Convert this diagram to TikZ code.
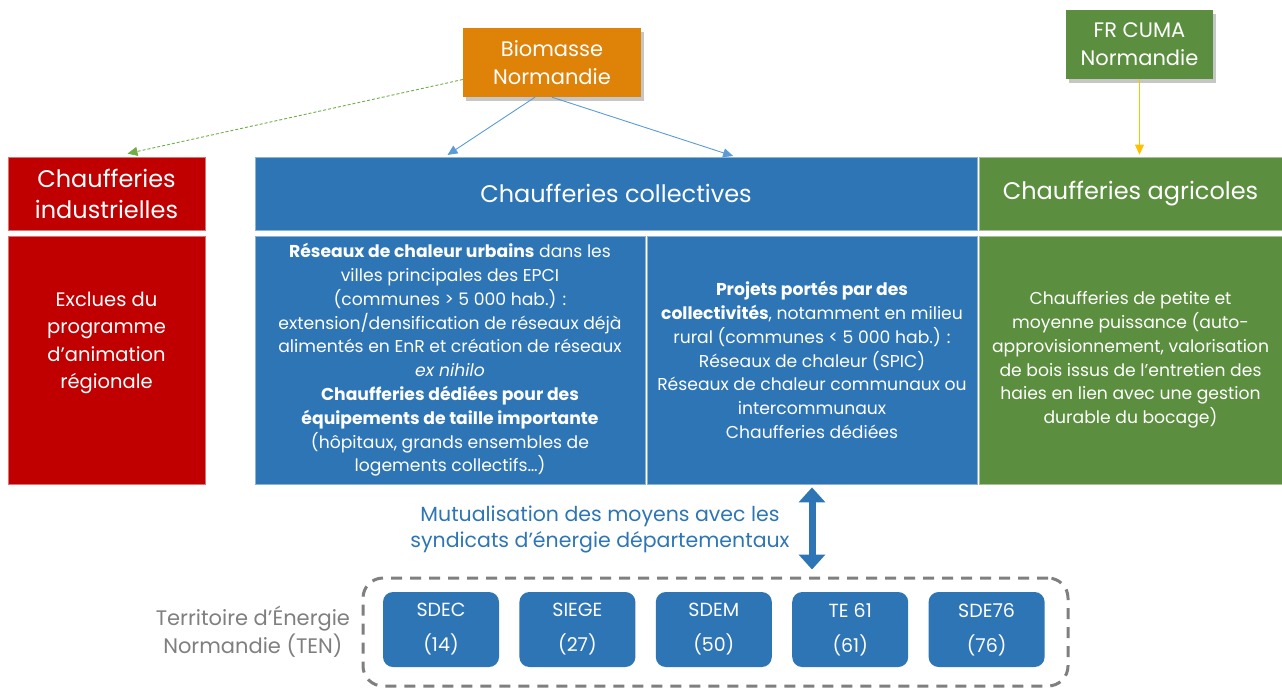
\documentclass[tikz,border=0pt]{standalone}
\usepackage{fontspec}
\setmainfont{Poppins}
\usetikzlibrary{arrows.meta,positioning,shadows}
\definecolor{bleu}{HTML}{2E75B6}
\definecolor{bleuclair}{HTML}{5B9BD5}
\definecolor{rouge}{HTML}{C00000}
\definecolor{vert}{HTML}{5B8F3F}
\definecolor{vertclair}{HTML}{70AD47}
\definecolor{orangebm}{HTML}{DF8208}
\definecolor{jaune}{HTML}{FFC000}
\definecolor{gris}{HTML}{7F7F7F}

\begin{document}
\begin{tikzpicture}[x=1pt,y=-1pt,>={Triangle[length=10pt,width=9pt]},
 bloc/.style={fill=#1,draw=#1!55!white,line width=0.8pt,text=white,align=center,inner sep=0pt},
 titre/.style={font=\fontsize{24}{31}\selectfont},
 corps/.style={font=\fontsize{17.2}{23.8}\selectfont},
 acteur/.style={fill=#1,text=white,align=center,inner sep=0pt,minimum height=69pt,
  drop shadow={opacity=.45,shadow xshift=3pt,shadow yshift=-4pt},font=\fontsize{21}{28}\selectfont},
 syndicat/.style={fill=bleu,text=white,rounded corners=10pt,minimum width=116pt,
  minimum height=75pt,align=center,font=\fontsize{19}{35}\selectfont},
 node distance=20pt]
\useasboundingbox (0,0) rectangle (1282,689);

% les trois familles de chaufferies
\node[bloc=rouge,titre,minimum width=197pt,minimum height=73pt] (ind) at (106.5,193.5) {Chaufferies\\industrielles};
\node[bloc=bleu,titre,minimum width=722pt,minimum height=73pt] (coll) at (616,193.5) {Chaufferies collectives};
\node[bloc=vert,titre,minimum width=303pt,minimum height=73pt] (agr) at (1130.5,193.5) {Chaufferies agricoles};

\node[bloc=rouge,minimum width=197pt,minimum height=248pt] (exc) at (106.5,360) {};
\node[text=white,align=center,font=\fontsize{19.5}{27.3}\selectfont] (exct) at ([yshift=17pt]exc.center)
 {Exclues du\\programme\\d’animation\\régionale};
\node[bloc=bleu,corps,minimum width=390pt,minimum height=248pt] (urb) at (450,360)
 {\textbf{Réseaux de chaleur urbains} dans les\\villes principales des EPCI\\(communes > 5 000 hab.) :\\
  extension/densification de réseaux déjà\\alimentés en EnR et création de réseaux\\\textit{ex nihilo}\\
  \textbf{Chaufferies dédiées pour des}\\\textbf{équipements de taille importante}\\
  (hôpitaux, grands ensembles de\\logements collectifs…)};
\node[bloc=bleu,corps,minimum width=330pt,minimum height=248pt] (rur) at (812,360)
 {\textbf{Projets portés par des}\\\textbf{collectivités}, notamment en milieu\\rural (communes < 5 000 hab.) :\\
  Réseaux de chaleur (SPIC)\\Réseaux de chaleur communaux ou\\intercommunaux\\Chaufferies dédiées};
\node[bloc=vert,corps,minimum width=303pt,minimum height=248pt] (pet) at (1130.5,360)
 {Chaufferies de petite et\\moyenne puissance (auto-\\approvisionnement, valorisation\\
  de bois issus de l’entretien des\\haies en lien avec une gestion\\durable du bocage)};

% animateurs
\node[acteur=orangebm,minimum width=178pt] (bio) at (552,62.5) {Biomasse\\Normandie};
\node[acteur=vert,minimum width=147pt] (cuma) at (1139.5,44.5) {FR CUMA\\Normandie};

\draw[->,vertclair,line width=0.9pt,dash pattern=on 3pt off 2pt] ([yshift=-17pt]bio.west) -- ([xshift=21pt,yshift=3pt]ind.north);
\draw[->,bleuclair,line width=0.9pt,shorten >=3pt] ([xshift=-17pt]bio.south) -- ([xshift=-171pt]coll.north);
\draw[->,bleuclair,line width=0.9pt,shorten >=2pt] (bio.south) -- ([xshift=119pt]coll.north);
\draw[->,jaune,line width=0.9pt,shorten >=2pt] (cuma.south) -- (cuma.south |- agr.north);

% syndicats d'energie
\node[draw=gris,line width=3pt,dash pattern=on 11pt off 8pt,rounded corners=20pt,
 minimum width=705pt,minimum height=108pt] (ten) at (715.5,632) {};
\node[syndicat] (sdec) at (441,629.5) {SDEC\\(14)};
\node[syndicat,right=of sdec] (siege) {SIEGE\\(27)};
\node[syndicat,right=of siege] (sdem) {SDEM\\(50)};
\node[syndicat,right=of sdem] (te) {TE 61\\(61)};
\node[syndicat,right=of te] (sde) {SDE76\\(76)};
\node[left=8pt of ten,text=gris,align=center,font=\fontsize{21}{28}\selectfont] (terr)
 {Territoire d’Énergie\\Normandie (TEN)};

\node[text=bleu,align=center,font=\fontsize{20.5}{26}\selectfont] (mut) at (600,529)
 {Mutualisation des moyens avec les\\syndicats d’énergie départementaux};
\draw[{Triangle[width=26pt,length=15pt]}-{Triangle[width=26pt,length=15pt]},bleu,line width=7pt,
 shorten <=3pt,shorten >=7pt] (rur.south) -- (rur.south |- ten.north);
\end{tikzpicture}
\end{document}
